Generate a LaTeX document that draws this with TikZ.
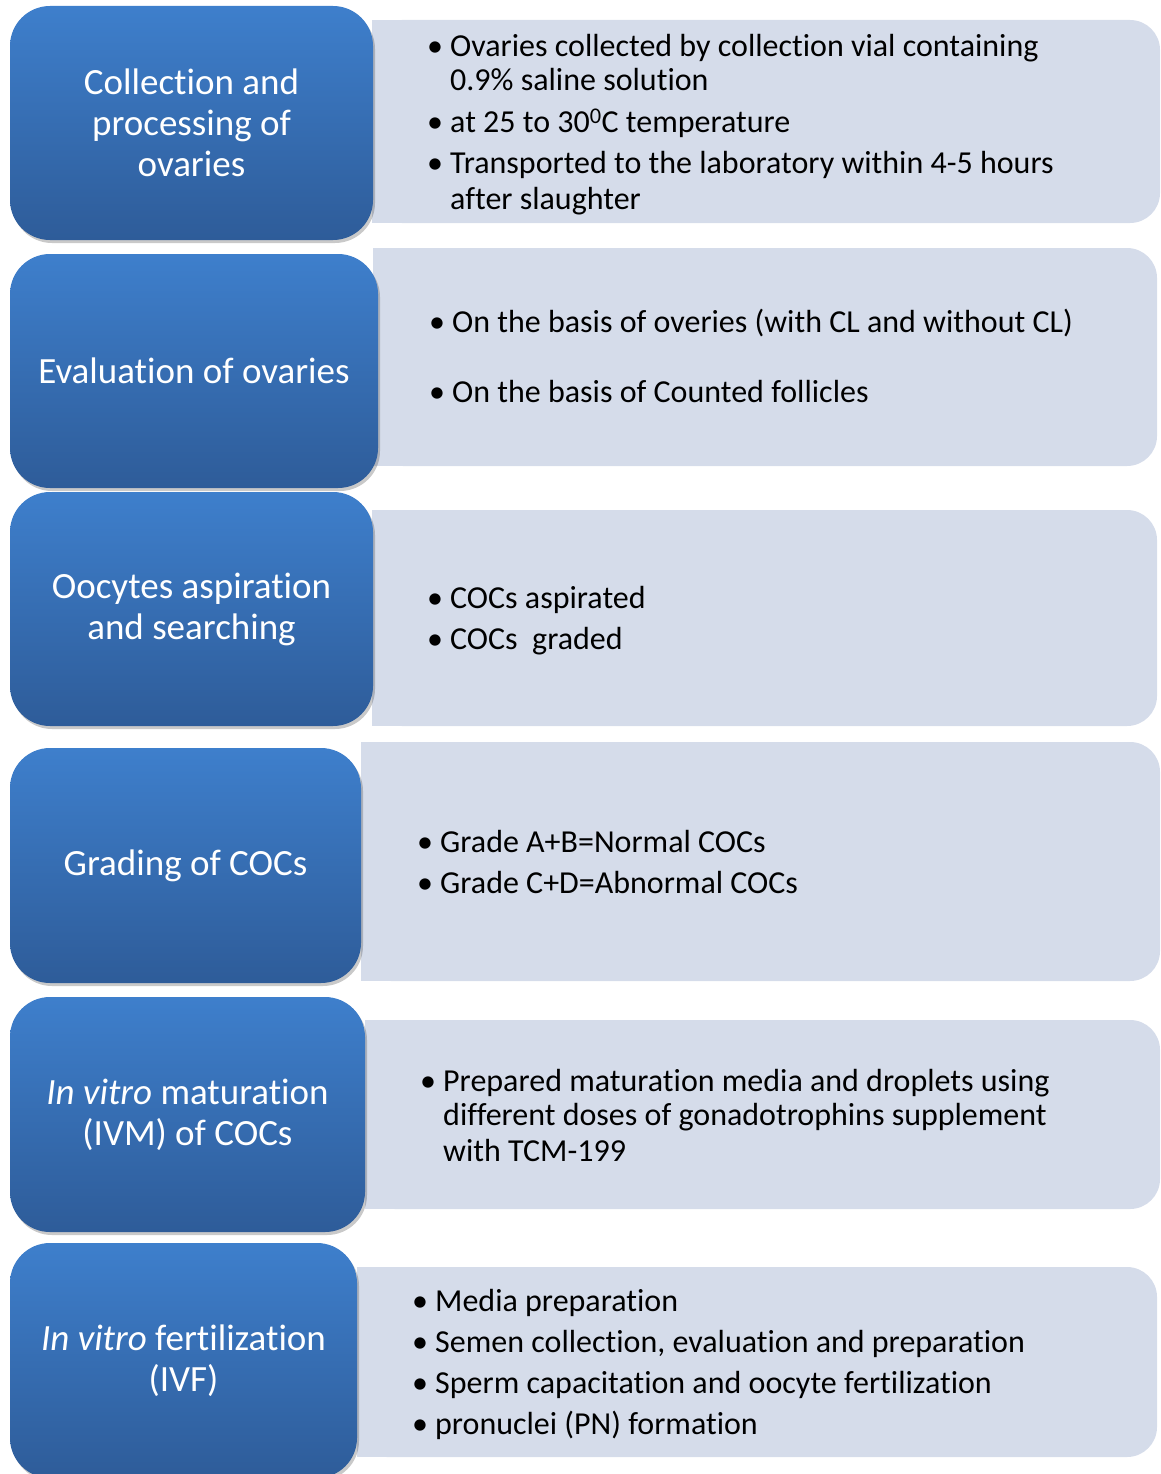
\documentclass[tikz,border=0pt]{standalone}
\usepackage{fontspec}
\setmainfont{Carlito}[Ligatures=NoCommon]
\usetikzlibrary{shadows,calc}
\definecolor{lightbg}{RGB}{213,220,234}
\definecolor{bluetop}{RGB}{62,127,204}
\definecolor{bluebot}{RGB}{46,92,153}
\newcommand{\bul}{\llap{\makebox[23pt][l]{•}}}
\tikzset{
 bluebox/.style={rounded corners=40pt, top color=bluetop, bottom color=bluebot, draw=none,
   text=white, align=center, font=\fontsize{37}{41}\selectfont, inner sep=0pt,
   drop shadow={opacity=0.3, shadow xshift=2pt, shadow yshift=-3pt, fill=black!70}},
 lightbox/.style={rounded corners=30pt, fill=lightbg, draw=none, inner sep=0pt},
 itemline/.style={anchor=base west, inner sep=0pt, text=black, font=\fontsize{32}{34}\selectfont},
}
\begin{document}
\begin{tikzpicture}[x=1pt,y=-1pt]
\useasboundingbox (0,0) rectangle (1161,1474);
% light boxes
\node[lightbox, minimum width=788pt, minimum height=203pt] (l1) at (766,121.5) {};
\node[lightbox, minimum width=784pt, minimum height=218pt] (l2) at (765,357) {};
\node[lightbox, minimum width=785pt, minimum height=216pt] (l3) at (764.5,618) {};
\node[lightbox, minimum width=799pt, minimum height=239pt] (l4) at (760.5,861.5) {};
\node[lightbox, minimum width=795pt, minimum height=189pt] (l5) at (762.5,1114.5) {};
\node[lightbox, minimum width=800pt, minimum height=190pt] (l6) at (757,1362) {};
\foreach \n in {l1,l2,l3,l4,l5,l6}{\fill[lightbg] (\n.north west) rectangle (\n.south);}
% blue boxes
\node[bluebox, minimum width=363pt, minimum height=234pt] (b1) at (191.5,123) {Collection and\\processing of\\ovaries};
\node[bluebox, minimum width=368pt, minimum height=234pt] (b2) at (194,371) {Evaluation of ovaries};
\node[bluebox, minimum width=363pt, minimum height=234pt] (b3) at (191.5,609) {Oocytes aspiration\\and searching};
\node[bluebox, minimum width=351pt, minimum height=235pt] (b4) at (185.5,865.5) {Grading of COCs};
\node[bluebox, minimum width=355pt, minimum height=235pt] (b5) at (187.5,1114.5) {\textit{In vitro} maturation\\(IVM) of COCs};
\node[bluebox, minimum width=347pt, minimum height=235pt] (b6) at (183.5,1360.5) {\textit{In vitro} fertilization\\(IVF)};
% row 1 text
\node[itemline] (t1a) at (450,57) {\bul Ovaries collected by collection vial containing};
\node[itemline] (t1b) at (450,91) {0.9\% saline solution};
\node[itemline] (t1c) at (450,133) {\bul at 25 to 30\textsuperscript{0}C temperature};
\node[itemline] (t1d) at (450,174) {\bul Transported to the laboratory within 4-5 hours};
\node[itemline] (t1e) at (450,209) {after slaughter};
% row 2
\node[itemline] (t2a) at (452,332) {\bul On the basis of overies (with CL and without CL)};
\node[itemline] (t2b) at (452,402) {\bul On the basis of Counted follicles};
% row 3
\node[itemline] (t3a) at (450,608) {\bul COCs aspirated};
\node[itemline] (t3b) at (450,649) {\bul COCs\ \ graded};
% row 4
\node[itemline] (t4a) at (440,852) {\bul Grade A+B=Normal COCs};
\node[itemline] (t4b) at (440,893) {\bul Grade C+D=Abnormal COCs};
% row 5
\node[itemline] (t5a) at (443,1091) {\bul Prepared maturation media and droplets using};
\node[itemline] (t5b) at (443,1125) {different doses of gonadotrophins supplement};
\node[itemline] (t5c) at (443,1161) {with TCM-199};
% row 6
\node[itemline] (t6a) at (435,1311) {\bul Media preparation};
\node[itemline] (t6b) at (435,1352) {\bul Semen collection, evaluation and preparation};
\node[itemline] (t6c) at (435,1393) {\bul Sperm capacitation and oocyte fertilization};
\node[itemline] (t6d) at (435,1434) {\bul pronuclei (PN) formation};
\end{tikzpicture}
\end{document}
